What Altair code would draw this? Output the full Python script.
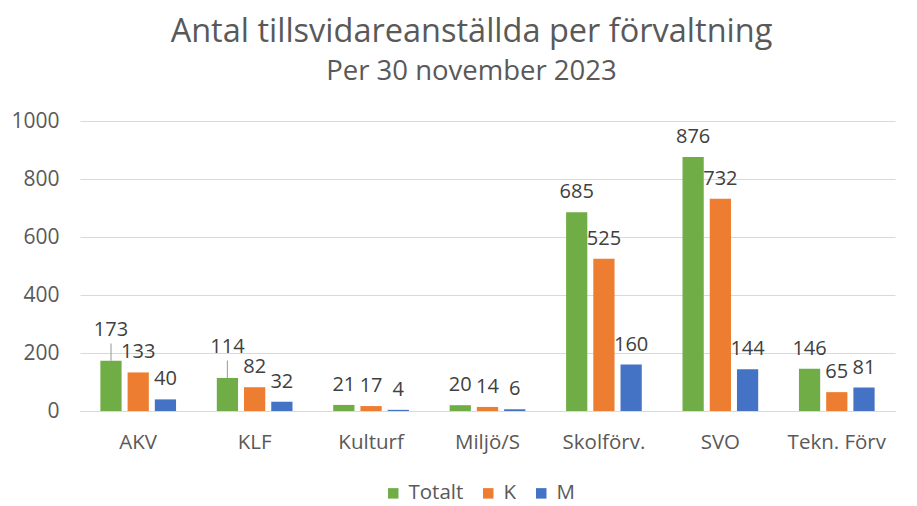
import altair as alt
import pandas as pd

categories = ["AKV", "KLF", "Kulturf", "Miljö/S", "Skolförv.", "SVO", "Tekn. Förv"]
series = ["Totalt", "K", "M"]
totalt = [173, 114, 21, 20, 685, 876, 146]
k_vals = [133, 82, 17, 14, 525, 732, 65]
m_vals = [40, 32, 4, 6, 160, 144, 81]
colors = ["#70AD47", "#ED7D31", "#4472C4"]
y_ticks = [0, 200, 400, 600, 800, 1000]
# Totalt labels that Excel moved up with a leader line
lifted = ["AKV", "KLF"]

rows = []
for i, c in enumerate(categories):
    for s, vals in zip(series, [totalt, k_vals, m_vals]):
        rows.append({"cat": c, "serie": s, "val": vals[i],
                     "lift": (s == "Totalt" and c in lifted)})
df = pd.DataFrame(rows)

FONT = "Open Sans"
GRAY = "#595959"

x_enc = alt.X("cat:N", sort=categories, title=None,
              scale=alt.Scale(paddingInner=0.35, paddingOuter=0.175),
              axis=alt.Axis(labelAngle=0, labelFontSize=20.5, labelColor=GRAY, labelFont=FONT,
                            ticks=False, domainColor="#D9D9D9", labelPadding=21))
x_plain = alt.X("cat:N", sort=categories)
xoff = alt.XOffset("serie:N", sort=series, scale=alt.Scale(paddingInner=0.22, paddingOuter=0))
y_enc = alt.Y("val:Q", title=None,
              scale=alt.Scale(domain=[0, 1000], nice=False),
              axis=alt.Axis(values=y_ticks, format="d", labelFontSize=21, labelColor=GRAY,
                            labelFont=FONT, ticks=False, domain=False, gridColor="#D9D9D9",
                            labelPadding=21))

color_enc = alt.Color("serie:N", sort=series,
                      scale=alt.Scale(domain=series, range=colors),
                      legend=alt.Legend(title=None, orient="none", direction="horizontal",
                                        legendX=303, legendY=362, padding=0,
                                        symbolType="square",
                                        symbolSize=110, symbolStrokeWidth=0,
                                        labelFontSize=20.5, labelColor=GRAY, labelFont=FONT,
                                        columnPadding=14, labelOffset=5))

base = alt.Chart(df)
bars = base.mark_bar().encode(x=x_enc, xOffset=xoff, y=y_enc, color=color_enc)

labels = base.transform_filter("!datum.lift").mark_text(
    baseline="alphabetic", dy=-14, fontSize=20, color="#404040", font=FONT).encode(
    x=x_plain, xOffset=xoff, y="val:Q", text="val:Q")

lifted_labels = base.transform_filter("datum.lift").mark_text(
    baseline="alphabetic", dy=-25, fontSize=20, color="#404040", font=FONT).encode(
    x=x_plain, xOffset=xoff, y="val:Q", text="val:Q")

leaders = base.transform_filter("datum.lift").transform_calculate(
    top="datum.val + 60").mark_rule(color="#A6A6A6", strokeWidth=1.2, xOffset=10.6).encode(
    x=x_plain, xOffset=xoff, y="val:Q", y2="top:Q")

chart = (bars + leaders + labels + lifted_labels).properties(
    width=815, height=290,
    title=alt.TitleParams(
        "Antal tillsvidareanställda per förvaltning",
        subtitle="Per 30 november 2023",
        font=FONT, fontSize=32.5, fontWeight="normal", color=GRAY,
        subtitleFont=FONT, subtitleFontSize=27.5, subtitleColor=GRAY,
        subtitlePadding=9, anchor="middle", offset=25, dx=-16),
    autosize=alt.AutoSizeParams(type="none"),
    padding={"left": 72, "top": 113, "right": 6, "bottom": 95},
).configure_view(stroke=None)

chart.save("out.html", embed_options={"renderer": "svg", "actions": False})
